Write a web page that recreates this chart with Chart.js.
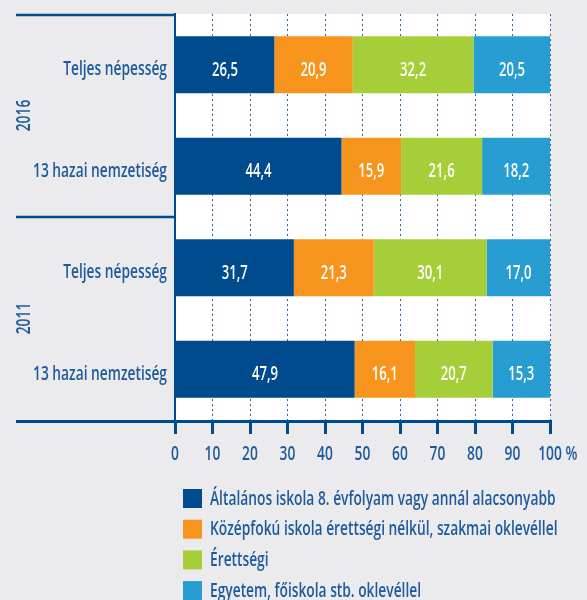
<!DOCTYPE html>
<html>
<head>
<meta charset="utf-8">
<script src="https://cdn.jsdelivr.net/npm/chart.js@4"></script>
<style>
  html, body { margin: 0; padding: 0; background: #ebebed; }
  #wrap { width: 587px; height: 600px; }
</style>
</head>
<body>
<div id="wrap"><canvas id="eduChart" width="587" height="600"></canvas></div>
<script>
// data
const categories = ["Teljes népesség", "13 hazai nemzetiség", "Teljes népesség", "13 hazai nemzetiség"];
const groups = ["2016", "2011"];
const seriesNames = [
  "Általános iskola 8. évfolyam vagy annál alacsonyabb",
  "Középfokú iskola érettségi nélkül, szakmai oklevéllel",
  "Érettségi",
  "Egyetem, főiskola stb. oklevéllel"
];
const altalanos = [26.5, 44.4, 31.7, 47.9];
const kozepfoku = [20.9, 15.9, 21.3, 16.1];
const erettsegi = [32.2, 21.6, 30.1, 20.7];
const egyetem = [20.5, 18.2, 17.0, 15.3];
const xTicks = [0, 10, 20, 30, 40, 50, 60, 70, 80, 90, 100];

const colors = ["#004b8d", "#f7941e", "#a6ce39", "#289dd2"];
const textBlue = "#1d5a9c";
const FONT = "'Open Sans', 'Liberation Sans', sans-serif";
const WEIGHT = "600 ";

// no condensed font available, so squeeze the text horizontally
let SX = 0.74;
function narrowText(ctx, s, x, y, align, size, color) {
  ctx.save();
  ctx.font = WEIGHT + size + "px " + FONT;
  ctx.fillStyle = color;
  ctx.textAlign = align;
  ctx.textBaseline = "alphabetic";
  ctx.translate(x, y);
  ctx.scale(SX, 1);
  ctx.fillText(s, 0, 0);
  ctx.restore();
}

const ctx = document.getElementById("eduChart");

// white plot area
const plotBg = {
  id: "plotBg",
  beforeDraw(chart) {
    const { ctx, chartArea: a } = chart;
    ctx.save();
    ctx.font = WEIGHT + "20px " + FONT;
    SX = 134 / ctx.measureText("13 hazai nemzetiség").width;
    ctx.fillStyle = "#ffffff";
    ctx.fillRect(a.left, a.top, a.right - a.left, a.bottom - a.top);
    ctx.restore();
  }
};

// tick labels, value labels, frame lines, year labels and legend
const extras = {
  id: "extras",
  afterDatasetsDraw(chart) {
    const { ctx, chartArea: a } = chart;
    const x = chart.scales.x;
    const y = chart.scales.y;

    // labels inside bars
    chart.data.datasets.forEach((ds, i) => {
      chart.getDatasetMeta(i).data.forEach((bar, j) => {
        const cx = (bar.x + bar.base) / 2;
        narrowText(ctx, ds.data[j].toFixed(1).replace(".", ","), cx, bar.y + 11, "center", 19, "#ffffff");
      });
    });

    // category labels
    categories.forEach((c, i) => {
      narrowText(ctx, c, a.left - 8, y.getPixelForValue(i) + 10.5, "right", 20, textBlue);
    });

    // x tick labels
    xTicks.forEach(v => {
      const px = x.getPixelForValue(v);
      if (v === 100) {
        ctx.save();
        ctx.font = WEIGHT + "20px " + FONT;
        const w = ctx.measureText("100").width * SX;
        ctx.restore();
        narrowText(ctx, "100 %", px - w / 2, 460, "left", 20, textBlue);
      } else {
        narrowText(ctx, String(v), px, 460, "center", 20, textBlue);
      }
    });

    // frame lines on the left
    ctx.save();
    ctx.strokeStyle = "#004b8d";
    ctx.lineWidth = 2.5;
    const midY = (y.getPixelForValue(1) + y.getPixelForValue(2)) / 2;
    [a.top + 1, midY].forEach(ly => {
      ctx.beginPath();
      ctx.moveTo(16, ly);
      ctx.lineTo(a.left, ly);
      ctx.stroke();
    });
    ctx.lineWidth = 3;
    ctx.beginPath();
    ctx.moveTo(16, a.bottom + 1.5);
    ctx.lineTo(a.right, a.bottom + 1.5);
    ctx.stroke();
    ctx.restore();

    // year labels
    groups.forEach((g, k) => {
      const gy = (y.getPixelForValue(k * 2) + y.getPixelForValue(k * 2 + 1)) / 2;
      ctx.save();
      ctx.translate(30, gy);
      ctx.rotate(-Math.PI / 2);
      narrowText(ctx, g, 0, 0, "center", 20, textBlue);
      ctx.restore();
    });

    // legend
    chart.data.datasets.forEach((ds, i) => {
      const ly = 498.5 + i * 30.7;
      ctx.fillStyle = ds.backgroundColor;
      ctx.fillRect(183, ly - 9.5, 19, 19);
      narrowText(ctx, ds.label, 210, ly + 6, "left", 20, textBlue);
    });
  }
};

new Chart(ctx, {
  type: "bar",
  data: {
    labels: categories,
    datasets: [
      { label: seriesNames[0], data: altalanos, backgroundColor: colors[0] },
      { label: seriesNames[1], data: kozepfoku, backgroundColor: colors[1] },
      { label: seriesNames[2], data: erettsegi, backgroundColor: colors[2] },
      { label: seriesNames[3], data: egyetem, backgroundColor: colors[3] },
    ],
  },
  options: {
    indexAxis: "y",
    responsive: false,
    animation: false,
    datasets: {
      bar: { barPercentage: 1, categoryPercentage: 0.56, borderWidth: 0 },
    },
    layout: { padding: { top: 14, right: 37, left: 0, bottom: 0 } },
    plugins: {
      legend: { display: false },
      tooltip: { enabled: false },
    },
    scales: {
      x: {
        stacked: true,
        min: 0,
        max: 100,
        afterBuildTicks(scale) {
          scale.ticks = xTicks.map(v => ({ value: v }));
        },
        afterFit(scale) {
          scale.height = 180;
        },
        border: { display: false, dash: [2, 3] },
        grid: {
          color: c => (c.tick && c.tick.value === 0 ? "rgba(0,0,0,0)" : "#2f66a6"),
          lineWidth: 1,
          tickColor: "#004b8d",
          tickWidth: 3,
          tickLength: 14,
          tickBorderDash: [],
        },
        ticks: { display: false },
      },
      y: {
        stacked: true,
        afterFit(scale) {
          scale.width = 175;
        },
        border: { color: "#004b8d", width: 2 },
        grid: { display: false },
        ticks: { display: false },
      },
    },
  },
  plugins: [plotBg, extras],
});
</script>
</body>
</html>
